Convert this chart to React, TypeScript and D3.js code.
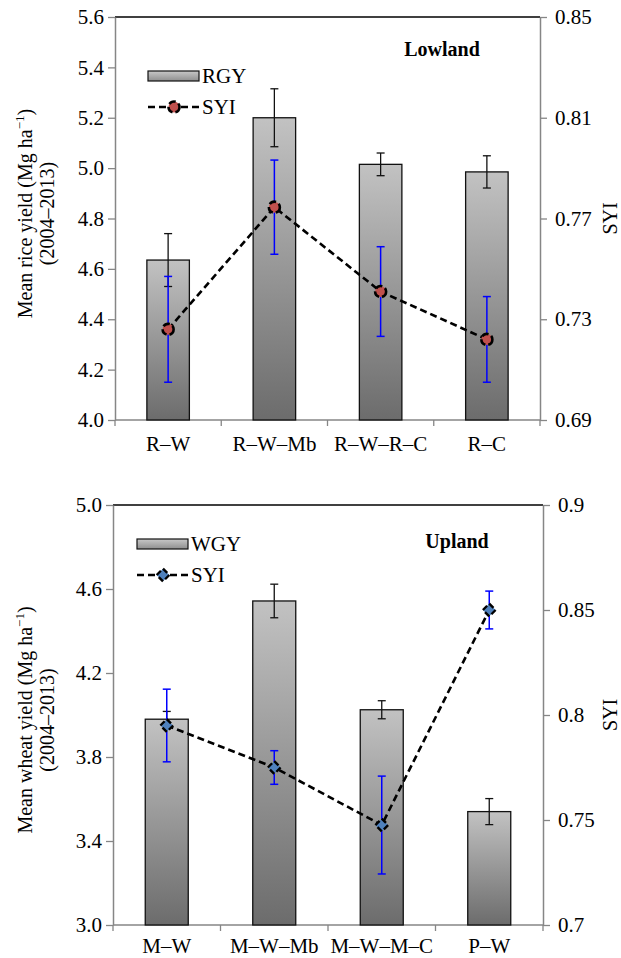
import React, { useEffect, useRef } from 'react';
import * as d3 from 'd3';

// ---- data ----
const lowCats = ['R–W', 'R–W–Mb', 'R–W–R–C', 'R–C'];
const rgy = [4.635, 5.2, 5.015, 4.985];
const rgyErr = [0.105, 0.115, 0.045, 0.064];
const lowSyi = [0.726, 0.7745, 0.741, 0.722];
const lowSyiErr = [0.021, 0.0187, 0.0178, 0.017];
const lowLeftTicks = [4.0, 4.2, 4.4, 4.6, 4.8, 5.0, 5.2, 5.4, 5.6];
const lowRightTicks = [0.69, 0.73, 0.77, 0.81, 0.85];

const upCats = ['M–W', 'M–W–Mb', 'M–W–M–C', 'P–W'];
const wgy = [3.98, 4.543, 4.025, 3.54];
const wgyErr = [0.037, 0.08, 0.043, 0.062];
const upSyi = [0.795, 0.775, 0.7476, 0.85];
const upSyiErr = [0.0173, 0.008, 0.0233, 0.009];
const upLeftTicks = [3.0, 3.4, 3.8, 4.2, 4.6, 5.0];
const upRightTicks = [0.7, 0.75, 0.8, 0.85, 0.9];

const FONT = '"Liberation Serif", "Times New Roman", serif';
const AXIS_GREY = '#868686';

const panels = [
  {
    cats: lowCats, bars: rgy, barErr: rgyErr, syi: lowSyi, syiErr: lowSyiErr,
    leftTicks: lowLeftTicks, rightTicks: lowRightTicks,
    leftFmt: d3.format('.1f'), rightFmt: d3.format('.2f'),
    box: { left: 115, right: 540, top: 17, bottom: 420 },
    barName: 'RGY', title: 'Lowland', titleX: 442, titleY: 56,
    legendX: 148, legendY: 71, yTitleShift: -5, labelY: 31,
    yTitle: 'Mean rice yield (Mg ha', marker: 'circle', markerFill: '#c0504d',
  },
  {
    cats: upCats, bars: wgy, barErr: wgyErr, syi: upSyi, syiErr: upSyiErr,
    leftTicks: upLeftTicks, rightTicks: upRightTicks,
    leftFmt: d3.format('.1f'), rightFmt: (d) => String(+d.toFixed(2)),
    box: { left: 113, right: 543, top: 505, bottom: 925 },
    barName: 'WGY', title: 'Upland', titleX: 457, titleY: 548,
    legendX: 137, legendY: 539, yTitleShift: 5, labelY: 28,
    yTitle: 'Mean wheat yield (Mg ha', marker: 'diamond', markerFill: '#4f81bd',
  },
];

const drawMarker = (sel, kind, fill, cx, cy) => {
  if (kind === 'circle') {
    sel.append('circle')
      .attr('cx', cx).attr('cy', cy).attr('r', 5.5)
      .attr('fill', fill).attr('stroke', '#000').attr('stroke-width', 2.6)
      .attr('stroke-dasharray', '7,3');
  } else {
    sel.append('rect')
      .attr('x', -4.5).attr('y', -4.5).attr('width', 9).attr('height', 9)
      .attr('transform', `translate(${cx},${cy}) rotate(45)`)
      .attr('fill', fill).attr('stroke', '#000').attr('stroke-width', 2.4)
      .attr('stroke-dasharray', '6,3');
  }
};

const Panel = ({ cfg }) => {
  const gRef = useRef(null);

  useEffect(() => {
    const g = d3.select(gRef.current);
    g.selectAll('*').remove();
    const { left, right, top, bottom } = cfg.box;

    const x = d3.scaleBand().domain(cfg.cats).range([left, right]);
    const bw = x.bandwidth();
    const cx = (c) => x(c) + bw / 2;
    const yL = d3.scaleLinear().domain(d3.extent(cfg.leftTicks)).range([bottom, top]);
    const yR = d3.scaleLinear().domain(d3.extent(cfg.rightTicks)).range([bottom, top]);

    // top border
    g.append('line')
      .attr('x1', left).attr('x2', right).attr('y1', top).attr('y2', top)
      .attr('stroke', '#000').attr('stroke-width', 1.3);

    // axes
    const styleAxis = (a) => {
      a.attr('font-family', FONT).attr('font-size', 21);
      a.select('.domain').attr('stroke', AXIS_GREY).attr('stroke-width', 1.5);
      a.selectAll('.tick line').attr('stroke', AXIS_GREY).attr('stroke-width', 1.3);
      a.selectAll('.tick text').attr('fill', '#000');
    };
    g.append('g')
      .attr('transform', `translate(${left},0)`)
      .call(d3.axisLeft(yL).tickValues(cfg.leftTicks).tickFormat(cfg.leftFmt)
        .tickSize(7).tickSizeOuter(0).tickPadding(4))
      .call(styleAxis);
    g.append('g')
      .attr('transform', `translate(${right},0)`)
      .call(d3.axisRight(yR).tickValues(cfg.rightTicks).tickFormat(cfg.rightFmt)
        .tickSize(7).tickSizeOuter(0).tickPadding(8))
      .call(styleAxis);

    // x axis with boundary ticks
    g.append('line')
      .attr('x1', left).attr('x2', right).attr('y1', bottom).attr('y2', bottom)
      .attr('stroke', AXIS_GREY).attr('stroke-width', 1.5);
    g.selectAll('.xtick')
      .data([...cfg.cats.map((c) => x(c)), right])
      .join('line')
      .attr('class', 'xtick')
      .attr('x1', (d) => d).attr('x2', (d) => d)
      .attr('y1', bottom).attr('y2', bottom + 6)
      .attr('stroke', AXIS_GREY).attr('stroke-width', 1.3);
    g.selectAll('.xlabel')
      .data(cfg.cats)
      .join('text')
      .attr('class', 'xlabel')
      .attr('x', (d) => cx(d)).attr('y', bottom + cfg.labelY)
      .attr('text-anchor', 'middle')
      .attr('font-family', FONT).attr('font-size', 21)
      .text((d) => d);

    // bars
    g.selectAll('.bar')
      .data(cfg.cats)
      .join('rect')
      .attr('class', 'bar')
      .attr('x', (d) => x(d) + bw * 0.3)
      .attr('width', bw * 0.4)
      .attr('y', (d, i) => yL(cfg.bars[i]))
      .attr('height', (d, i) => bottom - yL(cfg.bars[i]))
      .attr('fill', 'url(#barGrad)')
      .attr('stroke', '#111').attr('stroke-width', 1.3);

    // error bars
    const errBars = (vals, errs, scale, color, width) => {
      const eg = g.append('g').attr('stroke', color).attr('stroke-width', width);
      cfg.cats.forEach((c, i) => {
        const px = cx(c);
        const y1 = scale(vals[i] + errs[i]);
        const y2 = scale(vals[i] - errs[i]);
        eg.append('line').attr('x1', px).attr('x2', px).attr('y1', y1).attr('y2', y2);
        eg.append('line').attr('x1', px - 4).attr('x2', px + 4).attr('y1', y1).attr('y2', y1);
        eg.append('line').attr('x1', px - 4).attr('x2', px + 4).attr('y1', y2).attr('y2', y2);
      });
    };
    errBars(cfg.bars, cfg.barErr, yL, '#111', 1.3);
    errBars(cfg.syi, cfg.syiErr, yR, '#0000ff', 1.5);

    // SYI line
    const syiLine = d3.line().x((d, i) => cx(cfg.cats[i])).y((d) => yR(d));
    g.append('path')
      .attr('d', syiLine(cfg.syi))
      .attr('fill', 'none').attr('stroke', '#000')
      .attr('stroke-width', 2.6).attr('stroke-dasharray', '7,4');
    const mg = g.append('g');
    cfg.syi.forEach((v, i) => drawMarker(mg, cfg.marker, cfg.markerFill, cx(cfg.cats[i]), yR(v)));

    // legend
    const lx = cfg.legendX, ly = cfg.legendY;
    g.append('rect')
      .attr('x', lx).attr('y', ly).attr('width', 51).attr('height', 10)
      .attr('fill', 'url(#legGrad)').attr('stroke', '#111').attr('stroke-width', 1.2);
    g.append('text')
      .attr('x', lx + 54).attr('y', ly + 12)
      .attr('font-family', FONT).attr('font-size', 21)
      .text(cfg.barName);
    g.append('line')
      .attr('x1', lx).attr('x2', lx + 51).attr('y1', ly + 36).attr('y2', ly + 36)
      .attr('stroke', '#000').attr('stroke-width', 2.6).attr('stroke-dasharray', '7,4');
    drawMarker(g, cfg.marker, cfg.markerFill, lx + 26, ly + 36);
    g.append('text')
      .attr('x', lx + 54).attr('y', ly + 43)
      .attr('font-family', FONT).attr('font-size', 21)
      .text('SYI');

    // panel title
    g.append('text')
      .attr('x', cfg.titleX).attr('y', cfg.titleY)
      .attr('text-anchor', 'middle')
      .attr('font-family', FONT).attr('font-size', 20).attr('font-weight', 'bold')
      .text(cfg.title);

    // y titles
    const cy = (top + bottom) / 2;
    const yt = g.append('text')
      .attr('transform', `translate(32,${cy + cfg.yTitleShift}) rotate(-90)`)
      .attr('text-anchor', 'middle')
      .attr('font-family', FONT).attr('font-size', 20);
    const l1 = yt.append('tspan').attr('x', 0).attr('dy', 0);
    l1.append('tspan').text(cfg.yTitle);
    l1.append('tspan').attr('dy', -8).attr('font-size', 13).text('−1');
    l1.append('tspan').attr('dy', 8).text(')');
    yt.append('tspan').attr('x', 0).attr('dy', 22).text('(2004–2013)');

    g.append('text')
      .attr('transform', `translate(617,${cy}) rotate(-90)`)
      .attr('text-anchor', 'middle')
      .attr('font-family', FONT).attr('font-size', 20)
      .text('SYI');
  }, [cfg]);

  return <g ref={gRef} />;
};

export default function App() {
  return (
    <svg width={621} height={958} style={{ position: 'absolute', left: 0, top: 0, background: '#fff' }}>
      <defs>
        <linearGradient id="barGrad" x1="0" y1="0" x2="0" y2="1">
          <stop offset="0" stopColor="#c2c2c2" />
          <stop offset="1" stopColor="#6c6c6c" />
        </linearGradient>
        <linearGradient id="legGrad" x1="0" y1="0" x2="0" y2="1">
          <stop offset="0" stopColor="#c8c8c8" />
          <stop offset="1" stopColor="#8e8e8e" />
        </linearGradient>
      </defs>
      {panels.map((p) => (
        <Panel key={p.title} cfg={p} />
      ))}
    </svg>
  );
}
